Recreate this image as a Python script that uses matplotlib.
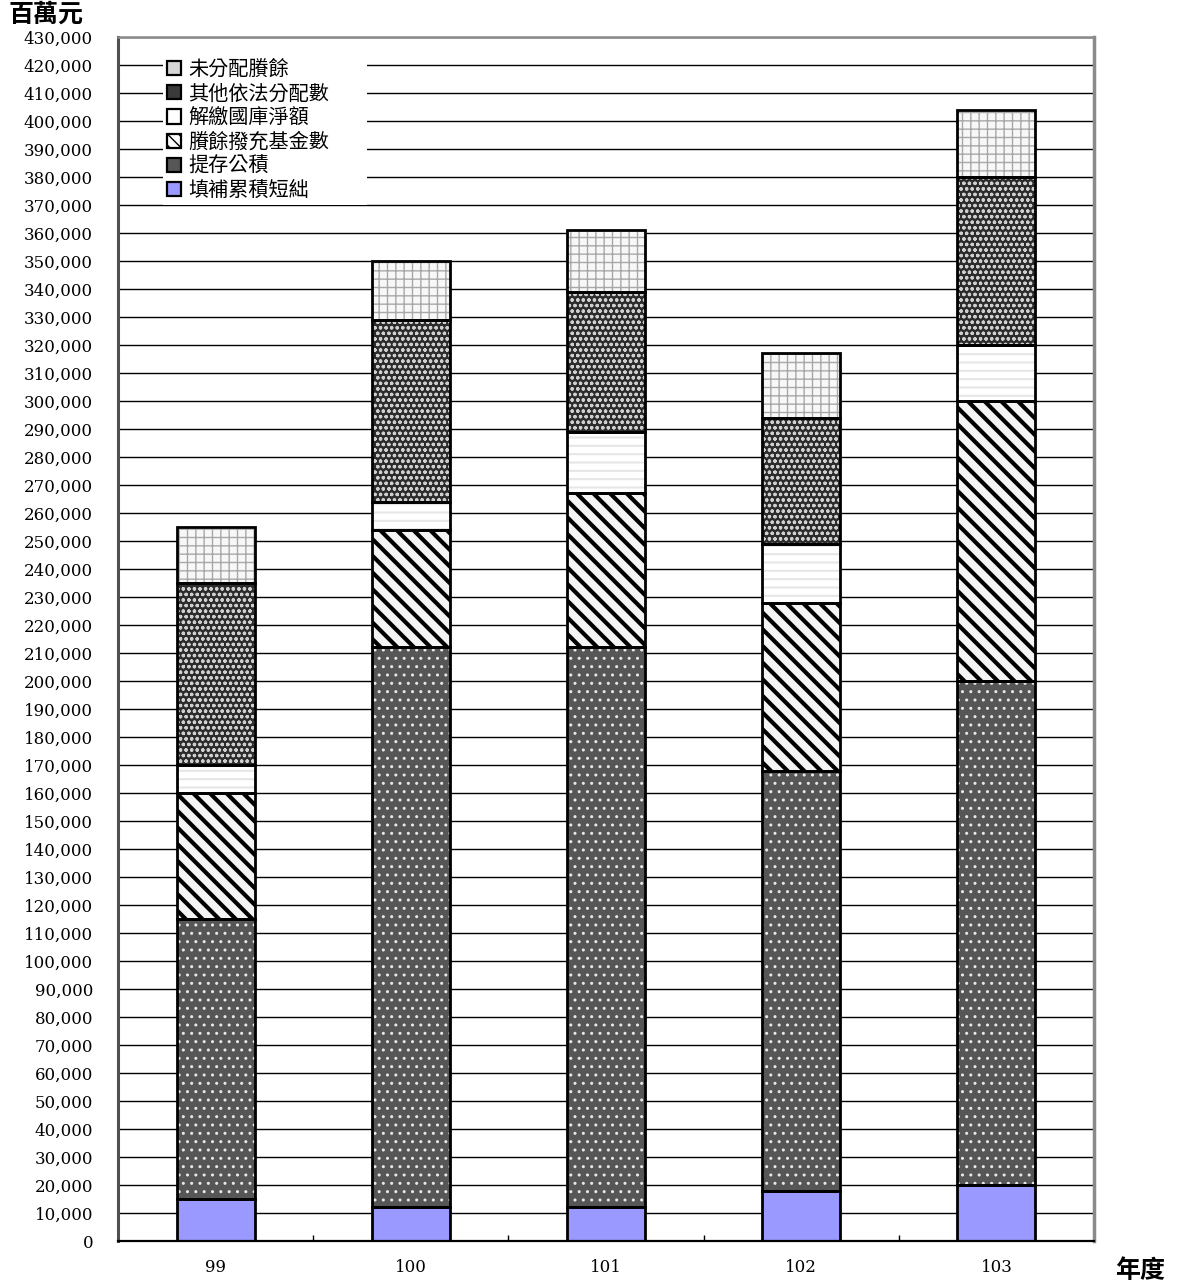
import numpy as np
import matplotlib
matplotlib.use("Agg")
import matplotlib.pyplot as plt
from matplotlib.patches import Patch
from matplotlib.ticker import FuncFormatter, MultipleLocator, FixedLocator

plt.rcParams['font.family'] = ['DejaVu Serif', 'Noto Sans CJK TC']

# 年度
years = ['99', '100', '101', '102', '103']
# 各項盈餘分配 (百萬元), 由下而上堆疊
fill_deficit = [15000, 12000, 12000, 18000, 20000]      # 填補累積短絀
legal_reserve = [100000, 200000, 200000, 150000, 180000]  # 提存公積
fund_transfer = [45000, 42000, 55000, 60000, 100000]     # 賸餘撥充基金數
treasury = [10000, 10000, 22000, 21000, 20000]           # 解繳國庫淨額
other_legal = [65000, 65000, 50000, 45000, 60000]        # 其他依法分配數
undistributed = [20000, 21000, 22000, 23000, 24000]      # 未分配賸餘

series = [
    ('填補累積短絀', fill_deficit),
    ('提存公積', legal_reserve),
    ('賸餘撥充基金數', fund_transfer),
    ('解繳國庫淨額', treasury),
    ('其他依法分配數', other_legal),
    ('未分配賸餘', undistributed),
]
# 填色, 網紋, 網紋顏色, 網紋線寬
styles = {
    '填補累積短絀': ('#9999ff', '', '#9999ff', 1.0),
    '提存公積': ('#565656', '..', '#e8e8e8', 1.0),
    '賸餘撥充基金數': ('#f4f4f4', '\\\\', '#000000', 3.0),
    '解繳國庫淨額': ('#ffffff', '--', '#e6e6e6', 1.5),
    '其他依法分配數': ('#2c2c2c', 'ooo', '#cfcfcf', 0.9),
    '未分配賸餘': ('#f7f7f7', '++', '#a8a8a8', 1.0),
}
# 圖例小方塊
legend_look = {
    '填補累積短絀': ('#9999ff', ''),
    '提存公積': ('#565656', ''),
    '賸餘撥充基金數': ('#ffffff', '\\\\\\'),
    '解繳國庫淨額': ('#ffffff', ''),
    '其他依法分配數': ('#3a3a3a', ''),
    '未分配賸餘': ('#d6d6d6', ''),
}

fig = plt.figure(figsize=(11.79, 12.83), dpi=100)
ax = fig.add_axes([118 / 1179, 1 - 1241 / 1283, (1094 - 118) / 1179, (1241 - 37) / 1283])

x = np.arange(len(years))
width = 0.4
bottom = np.zeros(len(years))
handles = []
for name, vals in series:
    fc, hatch, hc, hlw = styles[name]
    vals = np.array(vals, dtype=float)
    with plt.rc_context({'hatch.linewidth': hlw}):
        ax.bar(x, vals, width, bottom=bottom, color=fc, edgecolor=hc,
               hatch=hatch, linewidth=0, zorder=2)
    ax.bar(x, vals, width, bottom=bottom, fill=False, edgecolor='black',
           linewidth=2.0, zorder=3)
    bottom += vals
    lfc, lh = legend_look[name]
    with plt.rc_context({'hatch.linewidth': 1.5}):
        handles.append(Patch(facecolor=lfc, edgecolor='black', hatch=lh, linewidth=1.6))

ax.set_xlim(-0.5, len(years) - 0.5)
ax.set_ylim(0, 430000)
ax.yaxis.set_major_locator(MultipleLocator(10000))
ax.yaxis.set_major_formatter(FuncFormatter(lambda v, p: f'{int(v):,}'))
ax.grid(axis='y', color='black', linewidth=1.0, zorder=1)
ax.set_axisbelow(True)
ax.tick_params(axis='y', length=0, pad=18, labelsize=12)

ax.set_xticks(x)
ax.set_xticklabels(years)
ax.tick_params(axis='x', which='major', length=0, pad=13, labelsize=12)
ax.xaxis.set_minor_locator(FixedLocator(x[:-1] + 0.5))
ax.tick_params(axis='x', which='minor', direction='in', length=4, width=1, color='black')

ax.spines['left'].set_color('#505050')
ax.spines['left'].set_linewidth(2.2)
ax.spines['bottom'].set_color('black')
ax.spines['bottom'].set_linewidth(1.6)
ax.spines['top'].set_color('#8a8a8a')
ax.spines['top'].set_linewidth(1.8)
ax.spines['right'].set_color('#8a8a8a')
ax.spines['right'].set_linewidth(2.5)

labels = [name for name, _ in series]
leg = ax.legend(handles[::-1], labels[::-1], loc='upper left',
                bbox_to_anchor=(0.046, 0.985, 0.209, 0.0), mode='expand',
                frameon=True, fancybox=False,
                prop={'family': 'Noto Sans CJK TC', 'size': 14.5},
                handlelength=0.72, handleheight=0.72, handletextpad=0.35,
                labelspacing=0.16, borderpad=0.2, borderaxespad=0)
leg.get_frame().set_edgecolor('none')
leg.get_frame().set_facecolor('white')
leg.get_frame().set_alpha(1)
leg.set_zorder(5)

fig.text(9 / 1179, 1 - 15 / 1283, '百萬元', family='Noto Sans CJK TC',
         fontsize=18, fontweight='bold', va='center', ha='left')
fig.text(1115 / 1179, 1 - 1271 / 1283, '年度', family='Noto Sans CJK TC',
         fontsize=18, fontweight='bold', va='center', ha='left')

fig.savefig('out.png', dpi=100)
